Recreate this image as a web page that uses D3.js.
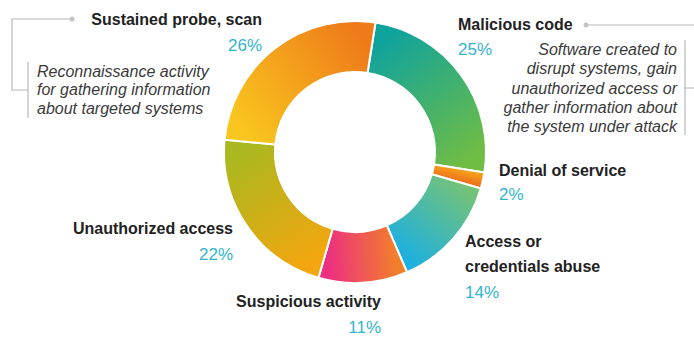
<!DOCTYPE html>
<meta charset="utf-8">
<style>
  body { margin: 0; background: #fff; }
  svg { font-family: Arial, "Liberation Sans", sans-serif; }
  .name { font-size: 16px; font-weight: bold; fill: #222; }
  .pct { font-size: 17px; fill: #33b4cd; }
  .desc { font-size: 16px; font-style: italic; fill: #3a3a3a; }
  .guide { fill: none; stroke: #b8b8b8; stroke-width: 1.2; }
</style>
<body>
<script src="https://d3js.org/d3.v7.min.js"></script>
<script>

  var width = 694,
    height = 338;

  // data
  var categories = ["Malicious code", "Denial of service", "Access or credentials abuse",
    "Suspicious activity", "Unauthorized access", "Sustained probe, scan"];
  var values = [25, 2, 14, 11, 22, 26];
  // gradient colours, start of slice -> end of slice (clockwise)
  var colorsFrom = ["#0fa39d", "#f4a41a", "#72c27a", "#f2802a", "#f3a60f", "#f9c61f"];
  var colorsTo = ["#70bd44", "#ef6e1c", "#1fb0de", "#ec2e82", "#a9b820", "#ee7a1a"];

  var labelLines = [["Malicious code"], ["Denial of service"], ["Access or", "credentials abuse"],
    ["Suspicious activity"], ["Unauthorized access"], ["Sustained probe, scan"]];
  var descLeft = ["Reconnaissance activity", "for gathering information", "about targeted systems"];
  var descRight = ["Software created to", "disrupt systems, gain", "unauthorized access or",
    "gather information about", "the system under attack"];

  var cx = 355, cy = 152, outerR = 131, innerR = 80;
  var offset = 9 * Math.PI / 180;

  var svg = d3.select("body").append("svg")
    .attr("width", width)
    .attr("height", height);

  var pie = d3.pie().sort(null)
    .startAngle(offset)
    .endAngle(offset + 2 * Math.PI);

  var arc = d3.arc().innerRadius(innerR).outerRadius(outerR);

  var arcs = pie(values);

  // point relative to donut centre
  function pt(a, r) {
    return [r * Math.sin(a), -r * Math.cos(a)];
  }

  var defs = svg.append("defs");
  arcs.forEach(function (d, i) {
    var r = (innerR + outerR) / 2;
    var p0 = pt(d.startAngle, r), p1 = pt(d.endAngle, r);
    var g = defs.append("linearGradient")
      .attr("id", "grad" + i)
      .attr("gradientUnits", "userSpaceOnUse")
      .attr("x1", p0[0]).attr("y1", p0[1])
      .attr("x2", p1[0]).attr("y2", p1[1]);
    g.append("stop").attr("offset", "0%").attr("stop-color", colorsFrom[i]);
    g.append("stop").attr("offset", "100%").attr("stop-color", colorsTo[i]);
  });

  svg.append("g")
    .attr("transform", "translate(" + cx + "," + cy + ")")
    .selectAll("path")
    .data(arcs)
    .enter().append("path")
    .attr("d", arc)
    .attr("fill", function (d, i) { return "url(#grad" + i + ")"; })
    .attr("stroke", "#fff")
    .attr("stroke-width", 2);

  // label positions: [x, first baseline, anchor, pct baseline]
  var labelPos = [
    [458, 30, "start", 55],
    [499, 176, "start", 200],
    [465, 247, "start", 298],
    [381, 307, "end", 333],
    [233, 234, "end", 260],
    [262, 25, "end", 51]
  ];

  labelLines.forEach(function (lines, i) {
    var p = labelPos[i];
    var t = svg.append("text").attr("class", "name")
      .attr("text-anchor", p[2]);
    lines.forEach(function (l, j) {
      t.append("tspan").attr("x", p[0]).attr("y", p[1] + j * 25).text(l);
    });
    svg.append("text").attr("class", "pct")
      .attr("text-anchor", p[2])
      .attr("x", p[0]).attr("y", p[3])
      .text(values[i] + "%");
  });

  // descriptions
  svg.append("text").attr("class", "desc")
    .selectAll("tspan").data(descLeft).enter().append("tspan")
    .attr("x", 37).attr("y", function (d, i) { return 77 + i * 18.3; })
    .text(function (d) { return d; });

  svg.append("text").attr("class", "desc")
    .attr("text-anchor", "end")
    .selectAll("tspan").data(descRight).enter().append("tspan")
    .attr("x", 677).attr("y", function (d, i) { return 55 + i * 19.3; })
    .text(function (d) { return d; });

  // guide lines
  svg.append("path").attr("class", "guide")
    .attr("d", "M72,19H12V90H28M28,62V118");
  svg.append("path").attr("class", "guide")
    .attr("d", "M586,25H694M685,40V135M685,88H694");
  svg.selectAll("circle.dot")
    .data([[72, 19], [586, 25]])
    .enter().append("circle")
    .attr("class", "dot")
    .attr("cx", function (d) { return d[0]; })
    .attr("cy", function (d) { return d[1]; })
    .attr("r", 2.5)
    .attr("fill", "#c4c4c4");

</script>
